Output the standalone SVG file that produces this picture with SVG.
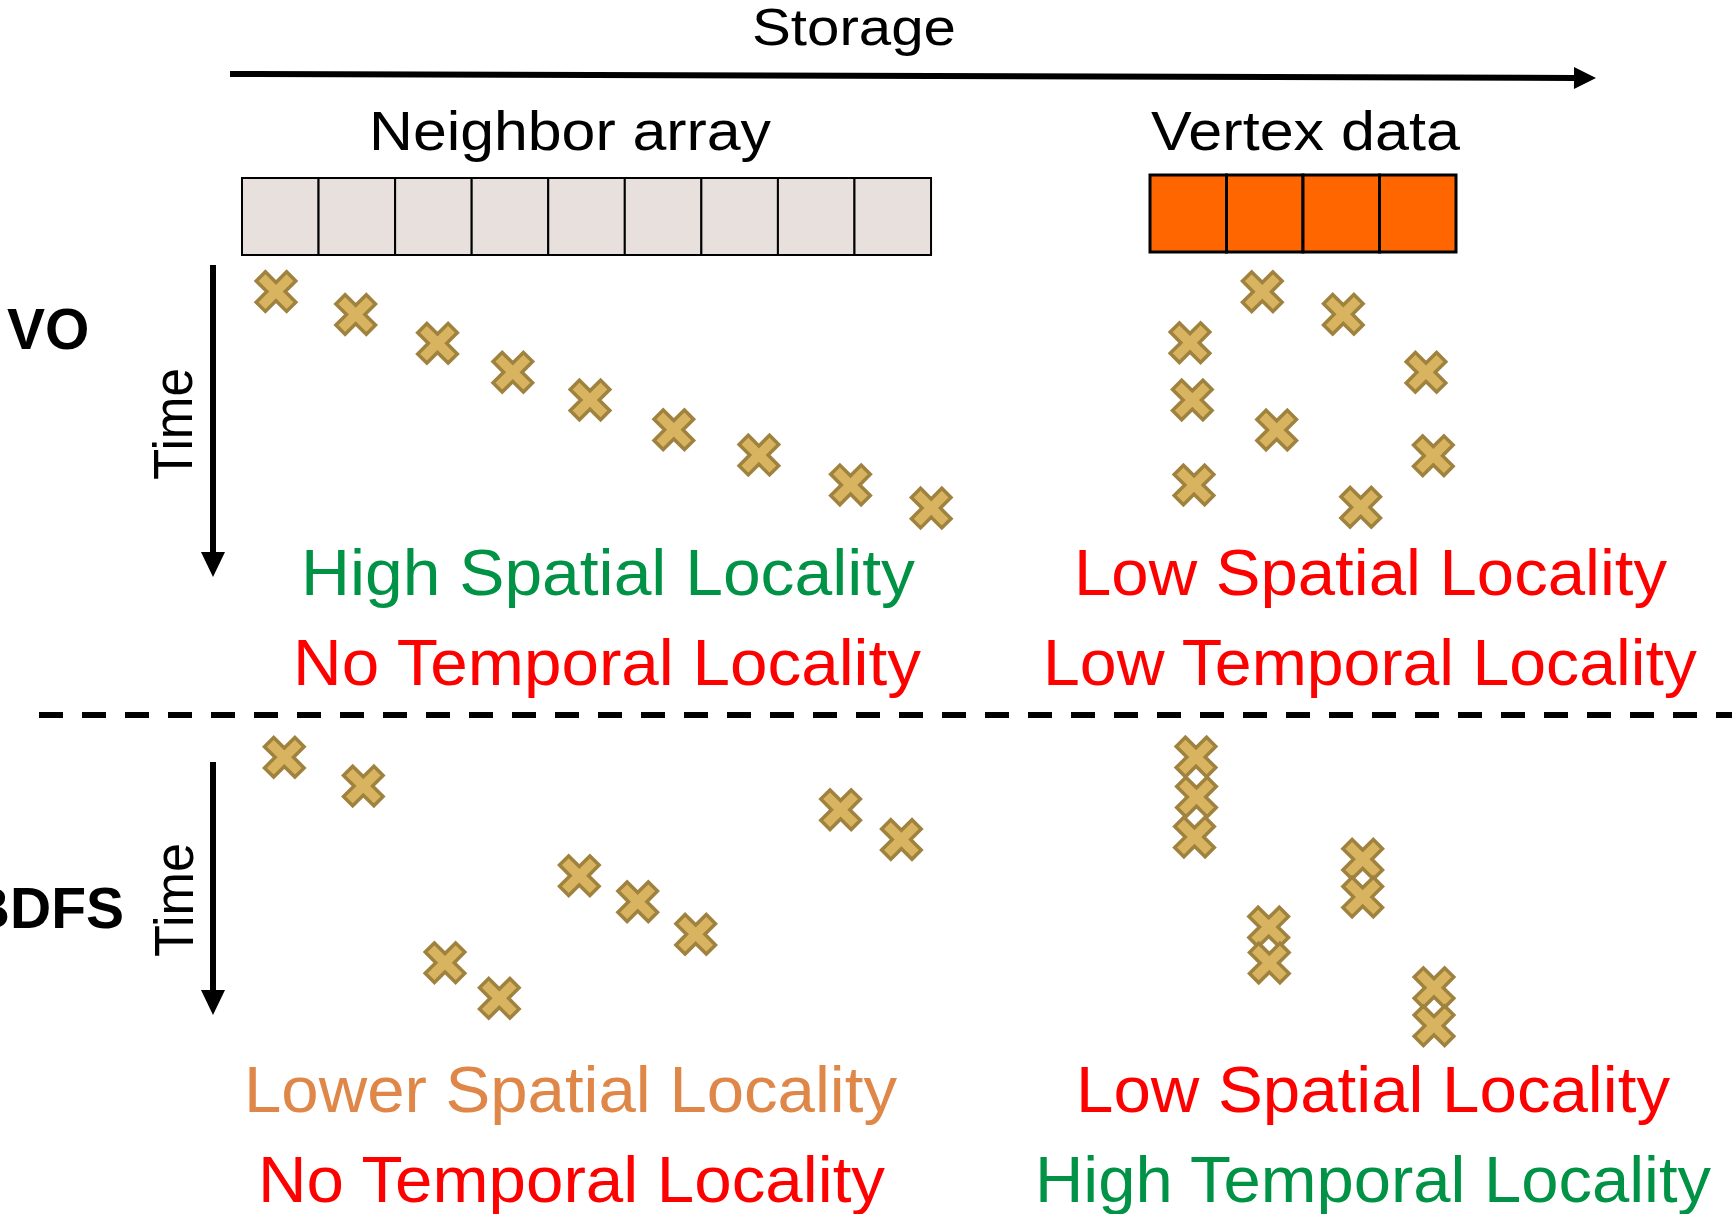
<svg xmlns="http://www.w3.org/2000/svg" xmlns:xlink="http://www.w3.org/1999/xlink" width="1732" height="1214" viewBox="0 0 1732 1214">
<style>
.hd{font-family:"Liberation Sans",Arial,sans-serif;font-size:55px;fill:#000}
.lab{font-family:"Liberation Sans",Arial,sans-serif;font-size:57px;font-weight:bold;fill:#000}
.tm{font-family:"Liberation Sans",Arial,sans-serif;font-size:56px;fill:#000}
.loc{font-family:"Liberation Sans",Arial,sans-serif;font-size:65px}
.g{fill:#009245}.r{fill:#ff0000}.o{fill:#df8748}
.nc{fill:#e7e0dc;stroke:#000;stroke-width:2}
.vc{fill:#ff6600;stroke:#000;stroke-width:3}
.ln{stroke:#000;stroke-width:6;fill:none}
.dash{stroke:#000;stroke-width:6;stroke-dasharray:24 19;fill:none}
</style>
<defs>
<path id="x" d="M-6.5,-21.5 H6.5 V-6.5 H21.5 V6.5 H6.5 V21.5 H-6.5 V6.5 H-21.5 V-6.5 H-6.5 Z" transform="rotate(45)" fill="#d8b360" stroke="#a0823f" stroke-width="3.5" stroke-linejoin="miter"/>
<marker id="ah" markerUnits="userSpaceOnUse" markerWidth="26" markerHeight="26" refX="0" refY="12" orient="auto" overflow="visible">
<path d="M0,0 L25,12 L0,24 Z" fill="#000"/>
</marker>
<marker id="ah2" markerUnits="userSpaceOnUse" markerWidth="24" markerHeight="24" refX="0" refY="11" orient="auto" overflow="visible">
<path d="M0,0 L22,11 L0,22 Z" fill="#000"/>
</marker>
</defs>
<rect width="1732" height="1214" fill="#fff"/>

<g id="connectors">
<line class="ln" x1="230" y1="74" x2="1574" y2="77.9" marker-end="url(#ah2)"/>
<line class="ln" x1="213" y1="265" x2="213" y2="552" marker-end="url(#ah)"/>
<line class="ln" x1="213" y1="762" x2="213" y2="990" marker-end="url(#ah)"/>
<line class="dash" x1="39" y1="715" x2="1732" y2="715"/>
</g>

<g id="storage-title">
<text class="hd" x="752" y="45" style="font-size:52px" textLength="204" lengthAdjust="spacingAndGlyphs">Storage</text>
</g>

<g id="neighbor-array">
<text class="hd" x="369" y="150" textLength="402" lengthAdjust="spacingAndGlyphs">Neighbor array</text>
<rect class="nc" x="242" y="178" width="76.56" height="77"/>
<rect class="nc" x="318.56" y="178" width="76.56" height="77"/>
<rect class="nc" x="395.12" y="178" width="76.56" height="77"/>
<rect class="nc" x="471.68" y="178" width="76.56" height="77"/>
<rect class="nc" x="548.24" y="178" width="76.56" height="77"/>
<rect class="nc" x="624.8" y="178" width="76.56" height="77"/>
<rect class="nc" x="701.36" y="178" width="76.56" height="77"/>
<rect class="nc" x="777.92" y="178" width="76.56" height="77"/>
<rect class="nc" x="854.48" y="178" width="76.56" height="77"/>
</g>

<g id="vertex-data">
<text class="hd" x="1151" y="150" textLength="309" lengthAdjust="spacingAndGlyphs">Vertex data</text>
<rect class="vc" x="1150" y="175" width="76.5" height="77"/>
<rect class="vc" x="1226.5" y="175" width="76.5" height="77"/>
<rect class="vc" x="1303" y="175" width="76.5" height="77"/>
<rect class="vc" x="1379.5" y="175" width="76.5" height="77"/>
</g>

<g id="vo-label">
<text class="lab" x="7" y="349">VO</text>
<text class="tm" transform="translate(192,424) rotate(-90)" text-anchor="middle" textLength="112" lengthAdjust="spacingAndGlyphs">Time</text>
</g>

<g id="bdfs-label">
<text class="lab" x="124" y="928" text-anchor="end">BDFS</text>
<text class="tm" transform="translate(193,900) rotate(-90)" text-anchor="middle" textLength="114" lengthAdjust="spacingAndGlyphs">Time</text>
</g>

<g id="vo-neighbor-accesses">
<use xlink:href="#x" x="276" y="291.6"/>
<use xlink:href="#x" x="355.7" y="314.5"/>
<use xlink:href="#x" x="437.5" y="343.3"/>
<use xlink:href="#x" x="512.8" y="372.2"/>
<use xlink:href="#x" x="590" y="400"/>
<use xlink:href="#x" x="673.8" y="429.8"/>
<use xlink:href="#x" x="758.9" y="455.1"/>
<use xlink:href="#x" x="850.5" y="484.9"/>
<use xlink:href="#x" x="931.2" y="508.1"/>
</g>

<g id="vo-vertex-accesses">
<use xlink:href="#x" x="1262.3" y="291.7"/>
<use xlink:href="#x" x="1343.3" y="314.3"/>
<use xlink:href="#x" x="1190" y="342.7"/>
<use xlink:href="#x" x="1426" y="372.3"/>
<use xlink:href="#x" x="1192.3" y="400"/>
<use xlink:href="#x" x="1276.7" y="430"/>
<use xlink:href="#x" x="1433.3" y="455.7"/>
<use xlink:href="#x" x="1194" y="485"/>
<use xlink:href="#x" x="1360.7" y="507.3"/>
</g>

<g id="bdfs-neighbor-accesses">
<use xlink:href="#x" x="284.3" y="757.3"/>
<use xlink:href="#x" x="363.3" y="786"/>
<use xlink:href="#x" x="579.3" y="875.7"/>
<use xlink:href="#x" x="637.7" y="901.7"/>
<use xlink:href="#x" x="695.7" y="934.3"/>
<use xlink:href="#x" x="445" y="962.7"/>
<use xlink:href="#x" x="499.3" y="998.3"/>
<use xlink:href="#x" x="840.6" y="809.7"/>
<use xlink:href="#x" x="901.4" y="839.5"/>
</g>

<g id="bdfs-vertex-accesses">
<use xlink:href="#x" x="1196" y="757"/>
<use xlink:href="#x" x="1196.5" y="797"/>
<use xlink:href="#x" x="1194.5" y="837"/>
<use xlink:href="#x" x="1362.7" y="859.3"/>
<use xlink:href="#x" x="1362.7" y="897"/>
<use xlink:href="#x" x="1268.7" y="927"/>
<use xlink:href="#x" x="1269.3" y="963"/>
<use xlink:href="#x" x="1434" y="987.7"/>
<use xlink:href="#x" x="1434" y="1025.7"/>
</g>

<g id="vo-neighbor-locality">
<text class="loc g" x="301" y="595" textLength="614" lengthAdjust="spacingAndGlyphs">High Spatial Locality</text>
<text class="loc r" x="293" y="685" textLength="628" lengthAdjust="spacingAndGlyphs">No Temporal Locality</text>
</g>
<g id="vo-vertex-locality">
<text class="loc r" x="1074" y="595" textLength="593" lengthAdjust="spacingAndGlyphs">Low Spatial Locality</text>
<text class="loc r" x="1043" y="685" textLength="654" lengthAdjust="spacingAndGlyphs">Low Temporal Locality</text>
</g>
<g id="bdfs-neighbor-locality">
<text class="loc o" x="244" y="1112" textLength="653" lengthAdjust="spacingAndGlyphs">Lower Spatial Locality</text>
<text class="loc r" x="258" y="1202" textLength="627" lengthAdjust="spacingAndGlyphs">No Temporal Locality</text>
</g>
<g id="bdfs-vertex-locality">
<text class="loc r" x="1076" y="1112" textLength="594" lengthAdjust="spacingAndGlyphs">Low Spatial Locality</text>
<text class="loc g" x="1035" y="1202" textLength="676" lengthAdjust="spacingAndGlyphs">High Temporal Locality</text>
</g>
</svg>
